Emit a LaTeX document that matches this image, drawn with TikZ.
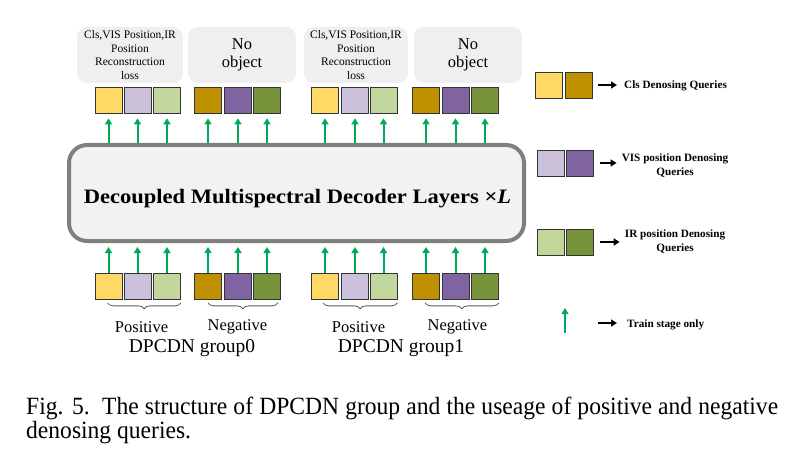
\documentclass[tikz,border=0pt]{standalone}
\usepackage{fontspec}
\setmainfont{Liberation Serif}
\newfontfamily\capfont{Liberation Serif}[FakeStretch=0.95]
\newfontfamily\titlefont{Liberation Serif}[FakeStretch=1.1]
\usetikzlibrary{arrows.meta,decorations.pathreplacing,calc}
\definecolor{qyl}{HTML}{FFD966}
\definecolor{qgd}{HTML}{BF9000}
\definecolor{qlv}{HTML}{CCC1DA}
\definecolor{qpu}{HTML}{8064A2}
\definecolor{qlg}{HTML}{C3D69B}
\definecolor{qdg}{HTML}{77933C}
\definecolor{garrow}{HTML}{00A859}
\definecolor{boxgray}{HTML}{F2F2F2}
\definecolor{lblgray}{HTML}{EFEFEF}
\definecolor{bordgray}{HTML}{7F7F7F}
\begin{document}
\begin{tikzpicture}[x=1pt,y=-1pt,
  sq/.style={draw=black!80, line width=0.7pt, minimum width=27pt, minimum height=26pt, inner sep=0pt},
  garr/.style={draw=garrow, line width=2pt, -{Triangle[width=7pt,length=6pt]}},
  barr/.style={draw=black, line width=1.6pt, -{Triangle[width=7pt,length=6pt]}},
  lbl/.style={fill=lblgray, rounded corners=10pt, minimum height=56pt, inner sep=0pt, align=center},
  brc/.style={draw=black!65, line width=0.8pt, decorate, decoration={brace, mirror, amplitude=6pt}},
  legtxt/.style={font=\fontsize{11.2}{14}\selectfont\bfseries, inner sep=0pt, align=center}
]
\useasboundingbox (0,0) rectangle (802,473);

% decoder box
\node[draw=bordgray, line width=4pt, fill=boxgray, rounded corners=18pt,
      minimum width=455pt, minimum height=96pt, inner sep=0pt] (dec) at (296.5,193) {};
\node[inner sep=0pt, anchor=base, font=\titlefont\fontsize{20.5}{24}\selectfont\bfseries] (title) at (297.5,203)
      {Decoupled Multispectral Decoder Layers ×\textit{L}};

% top label boxes
\node[lbl, minimum width=106pt, font=\fontsize{11.5}{13.6}\selectfont] (lb1) at (130,55)
  {Cls,VIS Position,IR\\Position\\Reconstruction\\loss};
\node[lbl, minimum width=108pt, font=\fontsize{16.5}{18}\selectfont] (lb2) at (242,55) {No\\object};
\node[lbl, minimum width=104pt, font=\fontsize{11.5}{13.6}\selectfont] (lb3) at (356,55)
  {Cls,VIS Position,IR\\Position\\Reconstruction\\loss};
\node[lbl, minimum width=108pt, font=\fontsize{16.5}{18}\selectfont] (lb4) at (468,55) {No\\object};

% squares
\foreach \i/\x/\c in {1/108.5/qyl,2/137.5/qlv,3/167/qlg,4/208/qgd,5/238/qpu,6/267/qdg,
                      7/325/qyl,8/355/qlv,9/383.5/qlg,10/426/qgd,11/455.5/qpu,12/485/qdg}{
  \node[sq, fill=\c] (t\i) at (\x,100) {};
  \node[sq, fill=\c] (b\i) at (\x,286.5) {};
  \draw[garr, shorten >=5pt] (t\i.south |- dec.north) -- (t\i.south);
  \draw[garr, shorten >=4pt] (b\i.north) -- (b\i.north |- dec.south);
}

% braces
\draw[brc] ($(b1.south)+(-1,3)$) -- ($(b3.south east)+(0,3)$);
\draw[brc] ($(b4.south)+(0,3)$) -- ($(b6.south east)+(-3,3)$);
\draw[brc] ($(b7.south)+(-2,3)$) -- ($(b9.south east)+(0,3)$);
\draw[brc] ($(b10.south)+(-1,3)$) -- ($(b12.south east)+(0,3)$);

% group labels
\node[font=\fontsize{16.5}{18}\selectfont, inner sep=0pt] (pos0) at (141.5,327) {Positive};
\node[font=\fontsize{16.5}{18}\selectfont, inner sep=0pt] (neg0) at (237.5,327) {Negative};
\node[font=\fontsize{16.5}{18}\selectfont, inner sep=0pt] (pos1) at (358.5,327) {Positive};
\node[font=\fontsize{16.5}{18}\selectfont, inner sep=0pt] (neg1) at (457.5,327) {Negative};
\node[font=\fontsize{19.5}{22}\selectfont, inner sep=0pt] (grp0) at (192,348) {DPCDN group0};
\node[font=\fontsize{19.5}{22}\selectfont, inner sep=0pt] (grp1) at (401,348) {DPCDN group1};

% legend
\node[sq, fill=qyl] (l1a) at (548.5,85) {};
\node[sq, fill=qgd] (l1b) at (578.5,85) {};
\node[sq, fill=qlv] (l2a) at (550.5,163) {};
\node[sq, fill=qpu] (l2b) at (580,163) {};
\node[sq, fill=qlg] (l3a) at (550.5,242) {};
\node[sq, fill=qdg] (l3b) at (580,242) {};
\node[legtxt, anchor=west] (lt1) at (624,86) {Cls Denosing Queries};
\node[legtxt] (lt2) at (675,166) {VIS position Denosing\\Queries};
\node[legtxt] (lt3) at (675,242) {IR position Denosing\\Queries};
\node[legtxt, anchor=west] (lt4) at (627,325) {Train stage only};
\draw[barr, shorten <=6pt, shorten >=7pt] (l1b.east) -- (l1b.east -| lt1.west);
\draw[barr, shorten <=6pt, shorten >=5pt] (l2b.east) -- (l2b.east -| lt2.west);
\draw[barr, shorten <=6pt, shorten >=5pt] (l3b.east) -- (l3b.east -| lt3.west);
\coordinate (ga0) at (565,333);
\coordinate (ga1) at (565,308);
\draw[garr] (ga0) -- (ga1);
\coordinate (ta0) at (598,323);
\draw[barr, shorten >=10pt] (ta0) -- (ta0 -| lt4.west);

% caption
\node[anchor=north west, inner sep=0pt, text width=752pt, align=justify,
      font=\capfont\fontsize{24.8}{24}\selectfont] (cap) at (26,397)
  {Fig. 5.\ \ The structure of DPCDN group and the useage of positive and negative denosing queries.};
\end{tikzpicture}
\end{document}
